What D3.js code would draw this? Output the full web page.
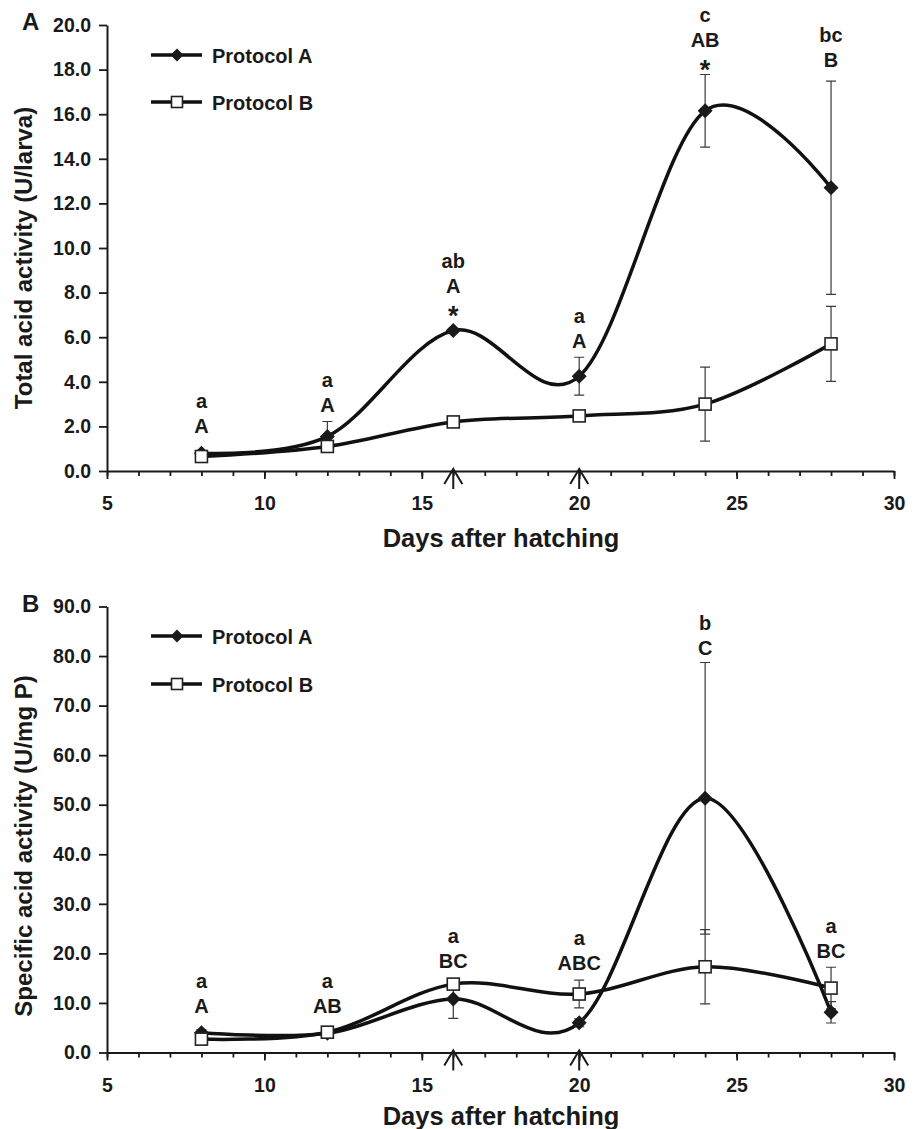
<!DOCTYPE html>
<html>
<head>
<meta charset="utf-8">
<style>
  body { margin: 0; background: #fff; }
  text { font-family: "Liberation Sans", Arial, sans-serif; font-weight: bold; fill: #1a1a1a; }
</style>
<script src="https://d3js.org/d3.v7.min.js"></script>
</head>
<body>
<svg id="chart" width="914" height="1129"></svg>
<script>
// shared x values
const days = [8, 12, 16, 20, 24, 28];
const xTicks = [5, 10, 15, 20, 25, 30];
const arrowDays = [16, 20];
const seriesNames = ["Protocol A", "Protocol B"];

// panel A: total acid activity (U/larva)
const totalA    = [0.80, 1.55, 6.30, 4.25, 16.15, 12.70];
const totalAErr = [0.10, 0.67, 0.10, 0.85, 1.63, 4.78];
const totalB    = [0.65, 1.10, 2.20, 2.47, 3.00, 5.70];
const totalBErr = [0.10, 0.15, 0.15, 0.12, 1.66, 1.68];
const totalTicks = [0, 2, 4, 6, 8, 10, 12, 14, 16, 18, 20];
const totalLetters = [["a", "A"], ["a", "A"], ["ab", "A", "*"], ["a", "A"], ["c", "AB", "*"], ["bc", "B"]];
const totalLetterY = [2.83, 3.77, 9.10, 6.64, 20.13, 19.24];   // baseline of first line, data units

// panel B: specific acid activity (U/mg P)
const specA    = [4.0, 3.9, 10.8, 6.0, 51.3, 8.1];
const specAErr = [0.6, 0.5, 3.9, 0.8, 27.4, 2.15];
const specB    = [2.7, 4.1, 13.8, 11.8, 17.3, 13.0];
const specBErr = [0.4, 0.9, 0.9, 2.8, 7.5, 4.2];
const specTicks = [0, 10, 20, 30, 40, 50, 60, 70, 80, 90];
const specLetters = [["a", "A"], ["a", "AB"], ["a", "BC"], ["a", "ABC"], ["b", "C"], ["a", "BC"]];
const specLetterY = [13.0, 13.0, 22.1, 21.7, 85.35, 24.1];

const svg = d3.select("#chart");
const x = d3.scaleLinear().domain([5, 30]).range([107, 894]);
const ink = "#1a1a1a";

const panels = [
  { tag: "A", top: 25, bottom: 471, yMax: 20, ticks: totalTicks,
    title: "Total acid activity (U/larva)", titleY: 258, xTitleY: 547,
    a: totalA, aErr: totalAErr, b: totalB, bErr: totalBErr,
    letters: totalLetters, letterY: totalLetterY, legendY: [55, 102] },
  { tag: "B", top: 606.5, bottom: 1052.5, yMax: 90, ticks: specTicks,
    title: "Specific acid activity (U/mg P)", titleY: 846, xTitleY: 1125,
    a: specA, aErr: specAErr, b: specB, bErr: specBErr,
    letters: specLetters, letterY: specLetterY, legendY: [636, 684] }
];

function diamond(sel, cx, cy, r) {
  sel.append("path")
    .attr("d", `M${cx},${cy - r}L${cx + r},${cy}L${cx},${cy + r}L${cx - r},${cy}Z`)
    .attr("fill", ink);
}

function square(sel, cx, cy, s) {
  sel.append("rect")
    .attr("x", cx - s / 2).attr("y", cy - s / 2)
    .attr("width", s).attr("height", s)
    .attr("fill", "#fff").attr("stroke", "#222").attr("stroke-width", 1.6);
}

function drawPanel(p) {
  const y = d3.scaleLinear().domain([0, p.yMax]).range([p.bottom, p.top]);
  const g = svg.append("g");

  // x axis: minor ticks every day, labelled ticks every 5
  g.append("g")
    .attr("transform", `translate(0,${p.bottom})`)
    .call(d3.axisBottom(x).tickValues(d3.range(5, 31)).tickSize(5).tickSizeOuter(0).tickFormat(""))
    .call(a => a.select(".domain").remove());
  const xa = g.append("g")
    .attr("transform", `translate(0,${p.bottom})`)
    .call(d3.axisBottom(x).tickValues(xTicks).tickSize(8).tickSizeOuter(0).tickPadding(17.5));
  xa.select(".domain").attr("stroke", ink).attr("stroke-width", 2);
  xa.selectAll("text").style("font-size", "19.5px").attr("fill", ink);
  g.selectAll(".tick line").attr("stroke", ink).attr("stroke-width", 1.8);

  const ya = g.append("g")
    .attr("transform", "translate(107,0)")
    .call(d3.axisLeft(y).tickValues(p.ticks).tickFormat(d3.format(".1f")).tickSize(8).tickSizeOuter(0).tickPadding(8));
  ya.select(".domain").attr("stroke", ink).attr("stroke-width", 2);
  ya.selectAll("line").attr("stroke", ink).attr("stroke-width", 1.8);
  ya.selectAll("text").style("font-size", "19.5px").attr("fill", ink);

  // titles
  g.append("text").attr("x", 22).attr("y", p.top + 5).style("font-size", "24px").text(p.tag);
  g.append("text")
    .attr("transform", `translate(32,${p.titleY}) rotate(-90)`)
    .attr("text-anchor", "middle").style("font-size", "24px")
    .text(p.title);
  g.append("text")
    .attr("x", 501).attr("y", p.xTitleY)
    .attr("text-anchor", "middle").style("font-size", "25.5px")
    .text("Days after hatching");

  // arrows under the axis
  arrowDays.forEach(d => {
    const ax = x(d), ty = p.bottom - 2;
    g.append("path")
      .attr("d", `M${ax},${ty}V${ty + 20}M${ax - 9},${ty + 15}L${ax},${ty}L${ax + 9},${ty + 15}`)
      .attr("fill", "none").attr("stroke", ink).attr("stroke-width", 2);
  });

  // smoothed lines
  const line = d3.line().x(d => x(d[0])).y(d => y(d[1])).curve(d3.curveCardinal.tension(0));
  [p.a, p.b].forEach(vals => {
    g.append("path")
      .datum(days.map((d, i) => [d, vals[i]]))
      .attr("d", line)
      .attr("fill", "none").attr("stroke", "#111").attr("stroke-width", 3.5);
  });

  // error bars
  [[p.a, p.aErr], [p.b, p.bErr]].forEach(([vals, errs]) => {
    days.forEach((d, i) => {
      const cx = x(d), y1 = y(vals[i] + errs[i]), y2 = y(Math.max(0, vals[i] - errs[i]));
      g.append("path")
        .attr("d", `M${cx},${y1}V${y2}M${cx - 5},${y1}H${cx + 5}M${cx - 5},${y2}H${cx + 5}`)
        .attr("fill", "none").attr("stroke", "#3a3a3a").attr("stroke-width", 1.2);
    });
  });

  // markers
  days.forEach((d, i) => diamond(g, x(d), y(p.a[i]), 7.5));
  days.forEach((d, i) => square(g, x(d), y(p.b[i]), 12));

  // significance letters
  p.letters.forEach((lines, i) => {
    lines.forEach((t, j) => {
      g.append("text")
        .attr("x", x(days[i]))
        .attr("y", y(p.letterY[i]) + j * 25 + (t === "*" ? 7 : 0))
        .attr("text-anchor", "middle")
        .style("font-size", t === "*" ? "27px" : "20px")
        .text(t);
    });
  });

  // legend
  seriesNames.forEach((name, k) => {
    const ly = p.legendY[k];
    g.append("line").attr("x1", 151).attr("x2", 202).attr("y1", ly).attr("y2", ly)
      .attr("stroke", "#111").attr("stroke-width", 3.5);
    if (k === 0) diamond(g, 177, ly, 6.5); else square(g, 177, ly, 11);
    g.append("text").attr("x", 212).attr("y", ly + 8).style("font-size", "20px").text(name);
  });
}

panels.forEach(drawPanel);
</script>
</body>
</html>
